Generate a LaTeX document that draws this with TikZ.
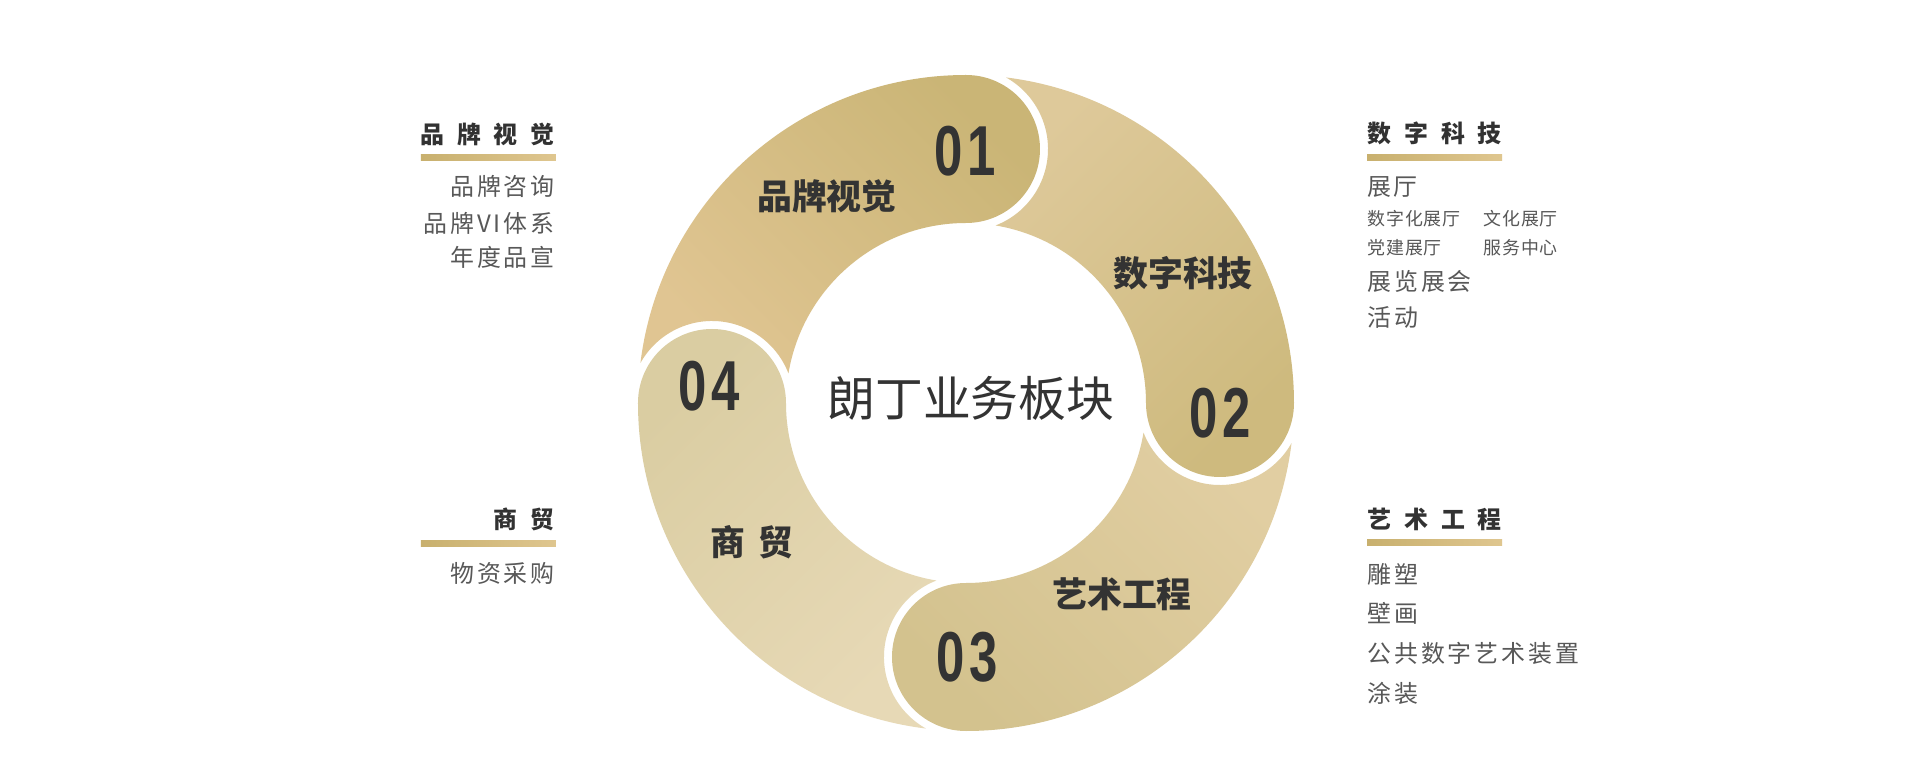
\documentclass[tikz,border=0pt]{standalone}
\usepackage{fontspec}
\usepackage{graphicx}
\newfontfamily\cjk{Noto Sans CJK SC}
\newfontfamily\digitfont{Liberation Sans}
\definecolor{sOneA}{RGB}{224,197,146}
\definecolor{sOneB}{RGB}{202,181,118}
\definecolor{sTwoA}{RGB}{222,201,154}
\definecolor{sTwoB}{RGB}{206,186,126}
\definecolor{sThrA}{RGB}{225,206,162}
\definecolor{sThrB}{RGB}{211,194,142}
\definecolor{sFouA}{RGB}{231,217,182}
\definecolor{sFouB}{RGB}{218,205,162}
\definecolor{barA}{RGB}{200,176,110}
\definecolor{barB}{RGB}{223,198,143}
\definecolor{txtdark}{RGB}{51,51,51}
\definecolor{headc}{RGB}{50,50,50}
\definecolor{itemc}{RGB}{88,88,88}
\makeatletter
\newcommand\spaced[2]{\begingroup\let\sp@sep\relax\@tfor\sp@c:=#2\do{\sp@sep\sp@c\def\sp@sep{\hspace{#1}}}\endgroup}
\makeatother
% #1 start angle, #2 colour at start, #3 colour at cap, #4 shading angle
\newcommand\ringseg[4]{%
  \shade[top color=#2, bottom color=#3, shading angle=#4]
    (#1-7.014:328) arc[start angle=#1-7.014, end angle=#1-90, radius=328]
    arc[start angle=#1-90, end angle=#1-270, radius=74]
    arc[start angle=#1-90, end angle=#1-9.475, radius=180]
    arc[start angle=#1-158.82, end angle=#1-29.24, radius=82] -- cycle;}
\begin{document}
\begin{tikzpicture}[x=1bp,y=1bp,
  lab/.style={font=\cjk\bfseries\fontsize{35}{40}\selectfont, text=txtdark, inner sep=0},
  num/.style={font=\digitfont\bfseries\fontsize{71}{80}\selectfont, text=txtdark, inner sep=0},
  ctr/.style={font=\cjk\fontsize{48}{56}\selectfont, text=txtdark, inner sep=0},
  head/.style={font=\cjk\bfseries\fontsize{24}{28}\selectfont, text=headc, inner sep=0},
  item/.style={font=\cjk\fontsize{24}{28}\selectfont, text=itemc, inner sep=0},
  small/.style={font=\cjk\fontsize{18}{22}\selectfont, text=itemc, inner sep=0},
  bar/.style={left color=barA, right color=barB}
]
\fill[white] (-966,-369) rectangle (954,403);
\useasboundingbox (-966,-369) rectangle (954,403);
% ring segments
\ringseg{180}{sOneA}{sOneB}{135}
\ringseg{90}{sTwoA}{sTwoB}{45}
\ringseg{0}{sThrA}{sThrB}{-45}
\ringseg{270}{sFouA}{sFouB}{225}
% numbers
\node[num] (n1) at (-1,252) {\scalebox{0.72}[1]{0\hspace{6bp}1}};
\node[num] (n2) at (254,-10) {\scalebox{0.72}[1]{0\hspace{6bp}2}};
\node[num] (n3) at (1,-254) {\scalebox{0.72}[1]{0\hspace{6bp}3}};
\node[num] (n4) at (-257,17) {\scalebox{0.72}[1]{0\hspace{6bp}4}};
% ring labels
\node[lab] (l1) at (-139,207) {品牌视觉};
\node[lab] (l2) at (217,130) {数字科技};
\node[lab] (l3) at (156,-191) {艺术工程};
\node[lab] (l4) at (-214,-139) {\spaced{14bp}{商贸}};
\node[ctr] (center) at (5,5) {朗丁业务板块};
% left top
\node[head, anchor=east] (hl1) at (-411,269) {\spaced{13bp}{品牌视觉}};
\shade[bar] (-545,242) rectangle (-410,248);
\node[item, anchor=east] (il1) at (-411,216) {\spaced{3bp}{品牌咨询}};
\node[item, anchor=east] (il2) at (-411,180) {\spaced{3bp}{品牌VI体系}};
\node[item, anchor=east] (il3) at (-411,146) {\spaced{3bp}{年度品宣}};
% left bottom
\node[head, anchor=east] (hl2) at (-411,-116) {\spaced{13bp}{商贸}};
\shade[bar] (-545,-144) rectangle (-410,-138);
\node[item, anchor=east] (il4) at (-411,-170) {\spaced{3bp}{物资采购}};
% right top
\node[head, anchor=west] (hr1) at (401,270) {\spaced{13bp}{数字科技}};
\shade[bar] (401,242) rectangle (536,248);
\node[item, anchor=west] (ir1) at (401,216) {\spaced{2bp}{展厅}};
\node[small, anchor=west] (ir2) at (401,184) {\spaced{1bp}{数字化展厅}};
\node[small, anchor=west] (ir3) at (517,184) {\spaced{1bp}{文化展厅}};
\node[small, anchor=west] (ir4) at (401,155) {\spaced{1bp}{党建展厅}};
\node[small, anchor=west] (ir5) at (517,155) {\spaced{1bp}{服务中心}};
\node[item, anchor=west] (ir6) at (401,122) {\spaced{3bp}{展览展会}};
\node[item, anchor=west] (ir7) at (401,86) {\spaced{3bp}{活动}};
% right bottom
\node[head, anchor=west] (hr2) at (401,-116) {\spaced{13bp}{艺术工程}};
\shade[bar] (401,-143) rectangle (536,-137);
\node[item, anchor=west] (ir8) at (401,-171) {\spaced{3bp}{雕塑}};
\node[item, anchor=west] (ir9) at (401,-210) {\spaced{3bp}{壁画}};
\node[item, anchor=west] (ir10) at (401,-250) {\spaced{3bp}{公共数字艺术装置}};
\node[item, anchor=west] (ir11) at (401,-290) {\spaced{3bp}{涂装}};
\end{tikzpicture}
\end{document}
